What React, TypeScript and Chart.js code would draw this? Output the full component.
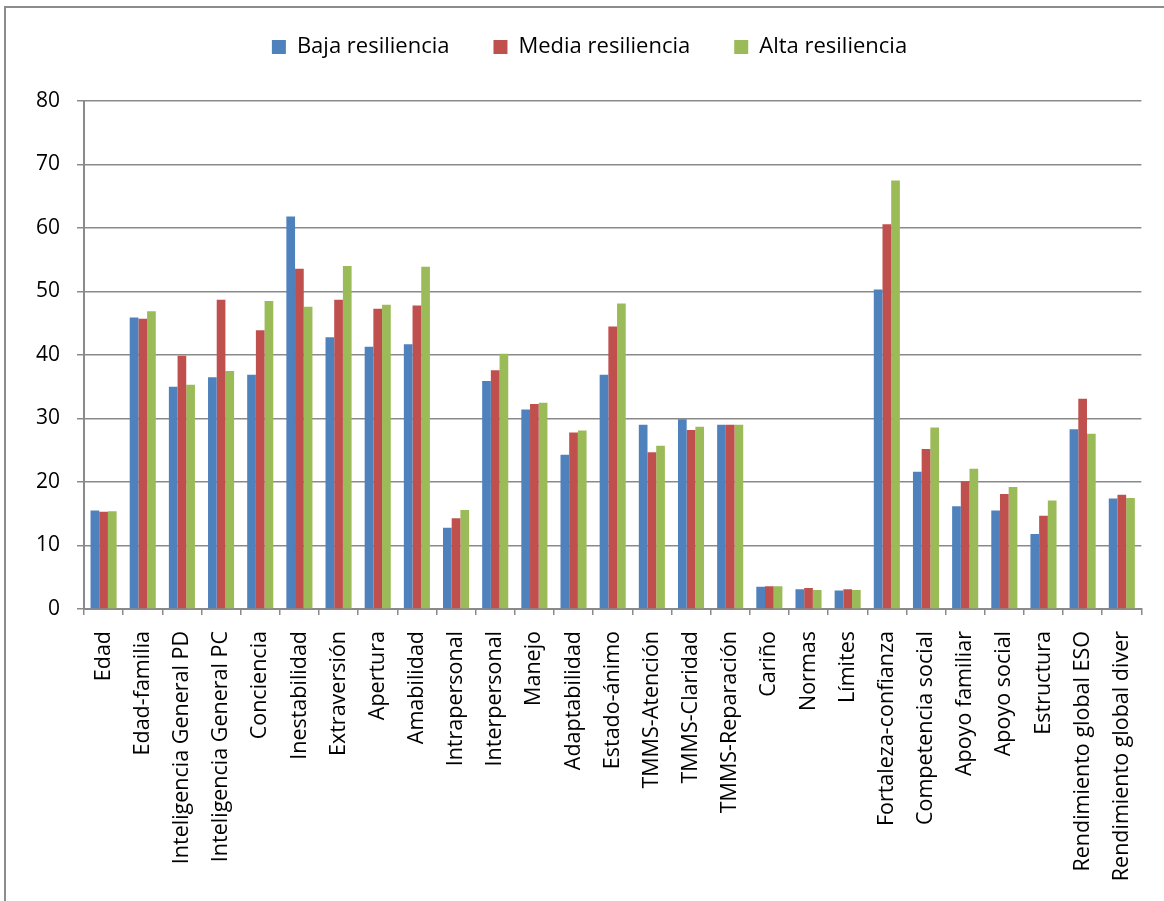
import React, { useEffect, useRef } from "react";
import { Chart, registerables } from "chart.js";

Chart.register(...registerables);

const categories = [
  "Edad",
  "Edad-familia",
  "Inteligencia General PD",
  "Inteligencia General PC",
  "Conciencia",
  "Inestabilidad",
  "Extraversión",
  "Apertura",
  "Amabilidad",
  "Intrapersonal",
  "Interpersonal",
  "Manejo",
  "Adaptabilidad",
  "Estado-ánimo",
  "TMMS-Atención",
  "TMMS-Claridad",
  "TMMS-Reparación",
  "Cariño",
  "Normas",
  "Límites",
  "Fortaleza-confianza",
  "Competencia social",
  "Apoyo familiar",
  "Apoyo social",
  "Estructura",
  "Rendimiento global ESO",
  "Rendimiento global diver",
];

const bajaResiliencia = [
  15.5, 45.9, 35.0, 36.5, 36.9, 61.8, 42.8, 41.3, 41.7, 12.8, 35.9, 31.4, 24.3, 36.9,
  29.0, 29.9, 29.0, 3.5, 3.1, 2.9, 50.3, 21.6, 16.2, 15.5, 11.8, 28.3, 17.4,
];
const mediaResiliencia = [
  15.3, 45.7, 39.9, 48.7, 43.9, 53.6, 48.7, 47.3, 47.8, 14.3, 37.6, 32.3, 27.8, 44.5,
  24.7, 28.2, 29.0, 3.6, 3.3, 3.1, 60.6, 25.2, 20.1, 18.1, 14.7, 33.1, 18.0,
];
const altaResiliencia = [
  15.4, 46.9, 35.3, 37.5, 48.5, 47.6, 54.0, 47.9, 53.9, 15.6, 40.2, 32.5, 28.1, 48.1,
  25.7, 28.7, 29.0, 3.6, 3.0, 3.0, 67.5, 28.6, 22.1, 19.2, 17.1, 27.6, 17.5,
];

const seriesNames = ["Baja resiliencia", "Media resiliencia", "Alta resiliencia"];
const seriesColors = ["#4F81BD", "#C0504D", "#9BBB59"];
const yMin = 0;
const yMax = 80;
const yStep = 10;

const FONT = "'Open Sans', 'DejaVu Sans', sans-serif";
const GRID = "#8a8a8a";

const legendPatch = {
  id: "legendPatch",
  beforeLayout(chart: any) {
    const lg = chart.legend;
    if (!lg || lg.__patched) return;
    lg.__patched = true;
    const origFit = lg.fit.bind(lg);
    lg.fit = function () {
      origFit();
      this.height = 101;
    };
    const origDraw = lg.draw.bind(lg);
    lg.draw = function (...args: any[]) {
      const ctx = this.ctx;
      ctx.save();
      ctx.translate(18, -8);
      origDraw(...args);
      ctx.restore();
    };
  },
};

export default function App() {
  const ref = useRef<HTMLCanvasElement | null>(null);

  useEffect(() => {
    if (!ref.current) return;
    const data = [bajaResiliencia, mediaResiliencia, altaResiliencia];
    const chart = new Chart(ref.current, {
      type: "bar",
      data: {
        labels: categories,
        datasets: seriesNames.map((name, i) => ({
          label: name,
          data: data[i],
          backgroundColor: seriesColors[i],
          borderWidth: 0,
          categoryPercentage: 0.666,
          barPercentage: 1,
        })),
      },
      options: {
        animation: false,
        responsive: false,
        maintainAspectRatio: false,
        devicePixelRatio: 1,
        layout: { padding: { top: 0, left: 0, right: 21, bottom: 0 } },
        plugins: {
          legend: {
            position: "top",
            labels: {
              font: { family: FONT, size: 22 },
              color: "#000",
              boxWidth: 14,
              boxHeight: 14,
              padding: 44,
            },
          },
          tooltip: { enabled: false },
        },
        scales: {
          x: {
            grid: {
              display: true,
              drawOnChartArea: false,
              drawTicks: true,
              tickLength: 6,
              color: GRID,
              lineWidth: 1.5,
            },
            border: { display: true, color: GRID, width: 2 },
            ticks: {
              autoSkip: false,
              minRotation: 90,
              maxRotation: 90,
              padding: 16,
              color: "#000",
              font: { family: FONT, size: 21.5 },
            },
            afterFit(scale: any) {
              scale.height = 292;
            },
          },
          y: {
            min: yMin,
            max: yMax,
            ticks: {
              stepSize: yStep,
              padding: 17,
              color: "#000",
              font: { family: FONT, size: 21 },
            },
            grid: {
              color: GRID,
              lineWidth: 1.5,
              drawTicks: true,
              tickLength: 7,
            },
            border: { display: true, color: GRID, width: 2 },
            afterFit(scale: any) {
              scale.width = 84;
            },
          },
        },
      },
      plugins: [legendPatch],
    });
    return () => chart.destroy();
  }, []);

  return (
    <div style={{ position: "absolute", left: 0, top: 0, width: 1164, height: 901, overflow: "hidden", background: "#fff" }}>
      <div
        style={{
          position: "absolute",
          left: 4,
          top: 6,
          width: 1200,
          height: 1000,
          border: "2px solid #8c8c8c",
          boxSizing: "border-box",
        }}
      />
      <canvas
        ref={ref}
        width={1164}
        height={901}
        style={{ position: "absolute", left: 0, top: 0, width: 1164, height: 901 }}
      />
    </div>
  );
}
